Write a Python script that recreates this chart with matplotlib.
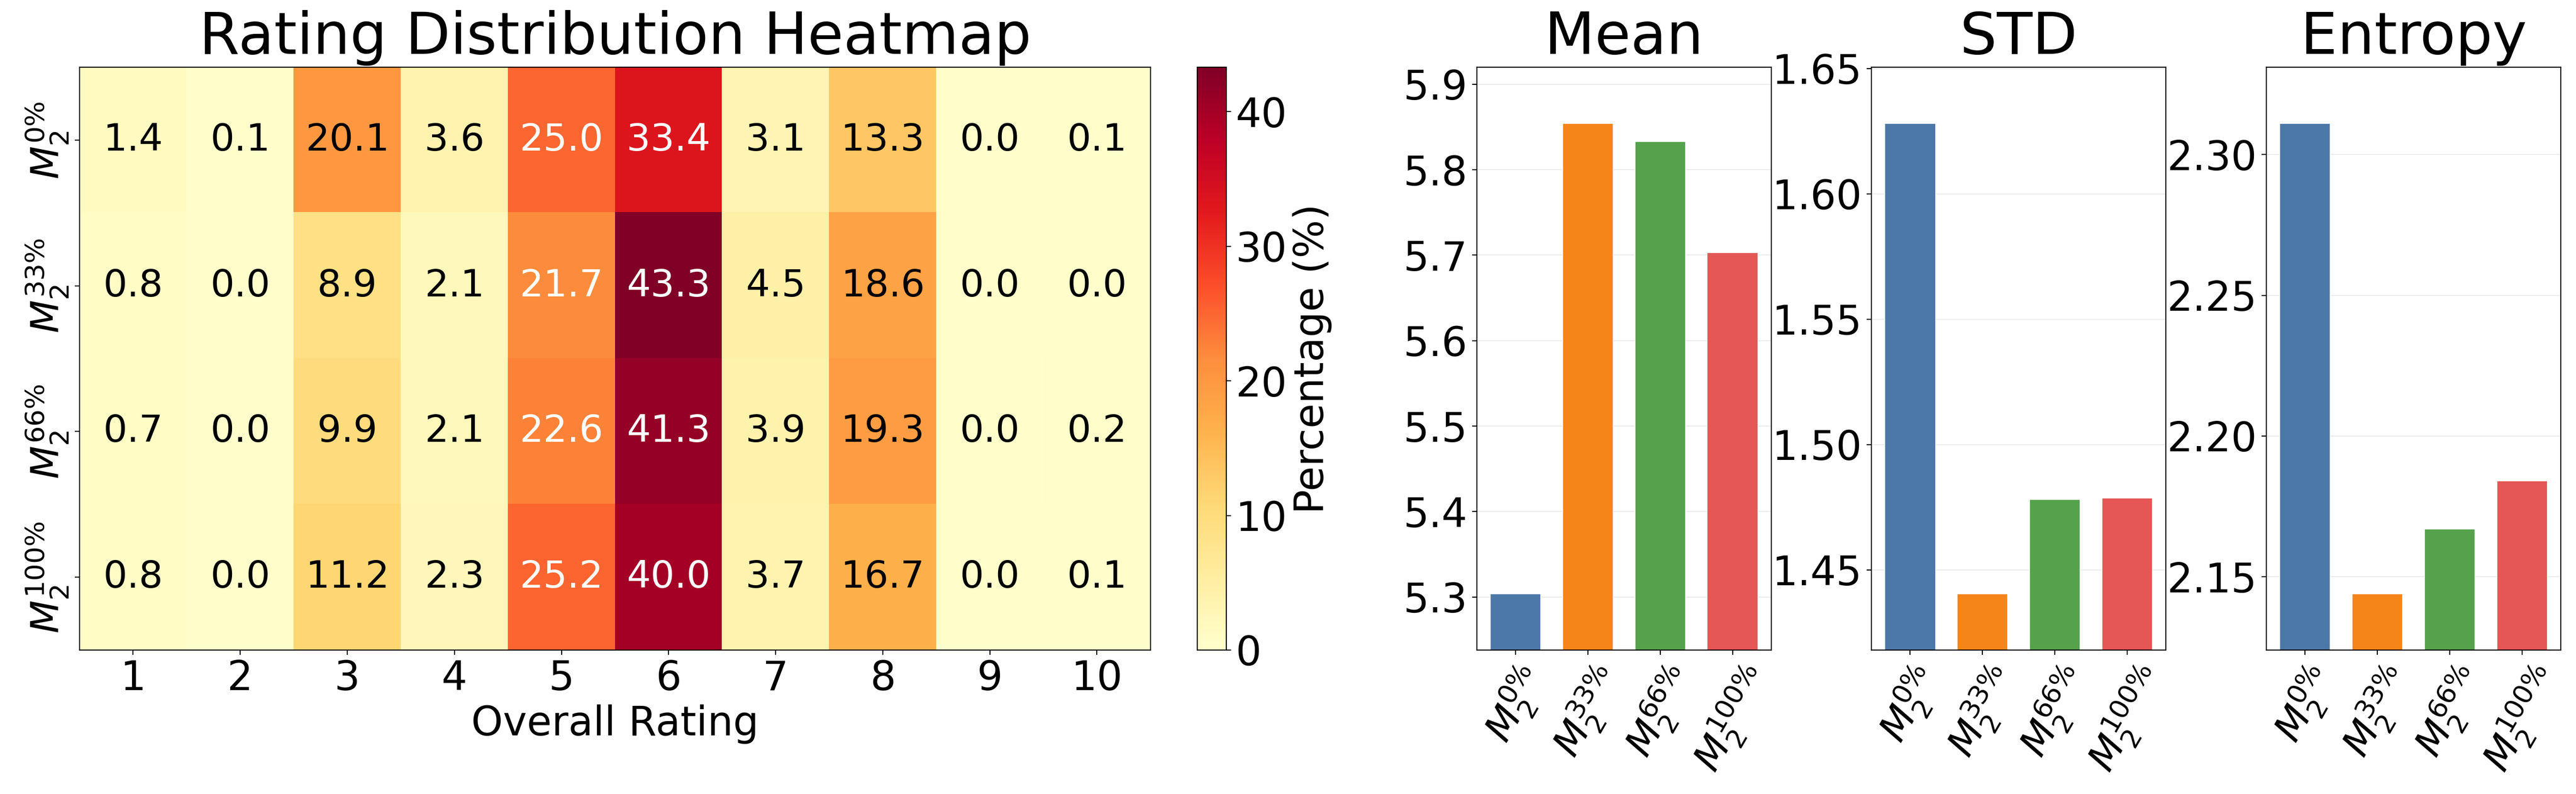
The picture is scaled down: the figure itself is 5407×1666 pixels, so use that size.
import numpy as np
import matplotlib
matplotlib.use('Agg')
import matplotlib.pyplot as plt

# Datos
# ---------------------------------------------
ratings = [1, 2, 3, 4, 5, 6, 7, 8, 9, 10]
model_labels = [r'$M_2^{0\%}$', r'$M_2^{33\%}$', r'$M_2^{66\%}$', r'$M_2^{100\%}$']

dist_0 = [1.4, 0.1, 20.1, 3.6, 25.0, 33.4, 3.1, 13.3, 0.0, 0.1]
dist_33 = [0.8, 0.0, 8.9, 2.1, 21.7, 43.3, 4.5, 18.6, 0.0, 0.0]
dist_66 = [0.7, 0.0, 9.9, 2.1, 22.6, 41.3, 3.9, 19.3, 0.0, 0.2]
dist_100 = [0.8, 0.0, 11.2, 2.3, 25.2, 40.0, 3.7, 16.7, 0.0, 0.1]

mean_vals = [5.304, 5.854, 5.833, 5.703]
std_vals = [1.628, 1.4405, 1.478, 1.4786]
entropy_vals = [2.311, 2.144, 2.167, 2.184]

bar_colors = ['#4C78A8', '#F58518', '#54A24B', '#E45756']

TICK_FS = 30.5
LABEL_FS = 29
TITLE_FS = 44

# Figura y ejes
# ---------------------------------------------
fig = plt.figure(figsize=(5407 / 200, 1666 / 200), dpi=200)
ax_hm = fig.add_axes([0.0309, 0.1813, 0.4157, 0.7341])
ax_cb = fig.add_axes([0.4648, 0.1813, 0.0113, 0.7341])
ax_mean = fig.add_axes([0.5733, 0.1813, 0.1143, 0.7341])
ax_std = fig.add_axes([0.7265, 0.1813, 0.1143, 0.7341])
ax_ent = fig.add_axes([0.8798, 0.1813, 0.1143, 0.7341])

# Mapa de calor
# ---------------------------------------------
matrix = np.array([dist_0, dist_33, dist_66, dist_100])
im = ax_hm.imshow(matrix, cmap='YlOrRd', aspect='auto', vmin=0, vmax=matrix.max())

for i in range(matrix.shape[0]):
    for j in range(matrix.shape[1]):
        v = matrix[i, j]
        color = 'white' if v > matrix.max() / 2 else 'black'
        ax_hm.text(j, i, f'{v:.1f}', ha='center', va='center', fontsize=28.5, color=color)

ax_hm.set_xticks(range(len(ratings)), [str(r) for r in ratings])
ax_hm.tick_params(labelsize=TICK_FS)
ax_hm.set_yticks(range(len(model_labels)), model_labels, rotation=90, va='center', fontsize=LABEL_FS)
ax_hm.set_xlabel('Overall Rating', fontsize=TICK_FS)
ax_hm.set_title('Rating Distribution Heatmap', fontsize=TITLE_FS, pad=10)

cb = fig.colorbar(im, cax=ax_cb)
cb.set_label('Percentage (%)', fontsize=TICK_FS)
cb.ax.tick_params(labelsize=TICK_FS)

# Barras de métricas
# ---------------------------------------------
for ax, vals, title in zip([ax_mean, ax_std, ax_ent],
                           [mean_vals, std_vals, entropy_vals],
                           ['Mean', 'STD', 'Entropy']):
    x = np.arange(len(vals))
    ax.bar(x, vals, width=0.7, color=bar_colors, edgecolor='white', linewidth=0.6)
    lo, hi = min(vals), max(vals)
    span = hi - lo
    ax.set_ylim(lo - 0.12 * span, hi + 0.12 * span)
    ax.tick_params(labelsize=TICK_FS)
    ax.set_xticks(x, model_labels, rotation=60, fontsize=LABEL_FS)
    ax.grid(axis='y', alpha=0.3, linewidth=0.6)
    ax.set_axisbelow(True)
    ax.set_title(title, fontsize=TITLE_FS, pad=10)

fig.savefig('out.png', dpi=200)
